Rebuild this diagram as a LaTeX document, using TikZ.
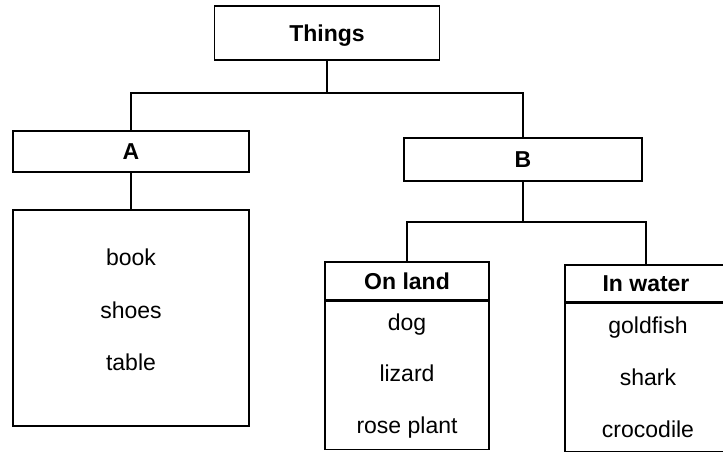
\documentclass[tikz,border=0pt]{standalone}
\usepackage{fontspec}
\setmainfont{Liberation Sans}
\usetikzlibrary{positioning}

\tikzset{
  box/.style={draw, line width=1.5pt, inner sep=0pt, text height=16pt, text depth=0pt,
    font=\fontsize{23}{27}\selectfont\bfseries},
  item/.style={anchor=base, inner sep=0pt, font=\fontsize{23}{27}\selectfont},
  link/.style={line width=1.5pt},
}

\begin{document}
\begin{tikzpicture}[x=1pt,y=-1pt]
  \useasboundingbox (0,0) rectangle (723,453);
  \clip (0,0) rectangle (723,453);
  % top of the tree
  \node[box, minimum width=225pt, minimum height=54pt] (things) at (327,33) {Things};
  \node[box, minimum width=236pt, minimum height=41pt] (a) at (131,151.5) {A};
  \node[box, minimum width=238pt, minimum height=43pt] (b) at (523,159.5) {B};
  \coordinate (fork) at (327,93);
  \draw[link] (things.south) -- (fork);
  \draw[link] (a.north) |- (fork) -| (b.north);
  % group A
  \node[box, minimum width=236pt, minimum height=216pt] (alist) at (131,318) {};
  \draw[link] (a.south) -- (alist.north);
  \node[item] (book) at (131,265) {book};
  \node[item] (shoes) at (131,318) {shoes};
  \node[item] (table) at (131,370) {table};
  % group B
  \coordinate (fork2) at (523,222);
  \draw[link] (b.south) -- (fork2);
  \node[box, minimum width=164pt, minimum height=38pt] (land) at (407,281) {On land};
  \node[box, minimum width=164pt, minimum height=148pt, below=0pt of land] (landlist) {};
  \node[box, minimum width=162pt, minimum height=37pt] (water) at (646,283.5) {In water};
  \node[box, minimum width=162pt, minimum height=148pt, below=0pt of water] (waterlist) {};
  \draw[link] (land.north) |- (fork2) -| (water.north);
  \node[item] (dog) at (407,330) {dog};
  \node[item] (lizard) at (407,381) {lizard};
  \node[item] (rose) at (407,433) {rose plant};
  \node[item] (goldfish) at (648,333) {goldfish};
  \node[item] (shark) at (648,385) {shark};
  \node[item] (croc) at (648,437) {crocodile};
\end{tikzpicture}
\end{document}
